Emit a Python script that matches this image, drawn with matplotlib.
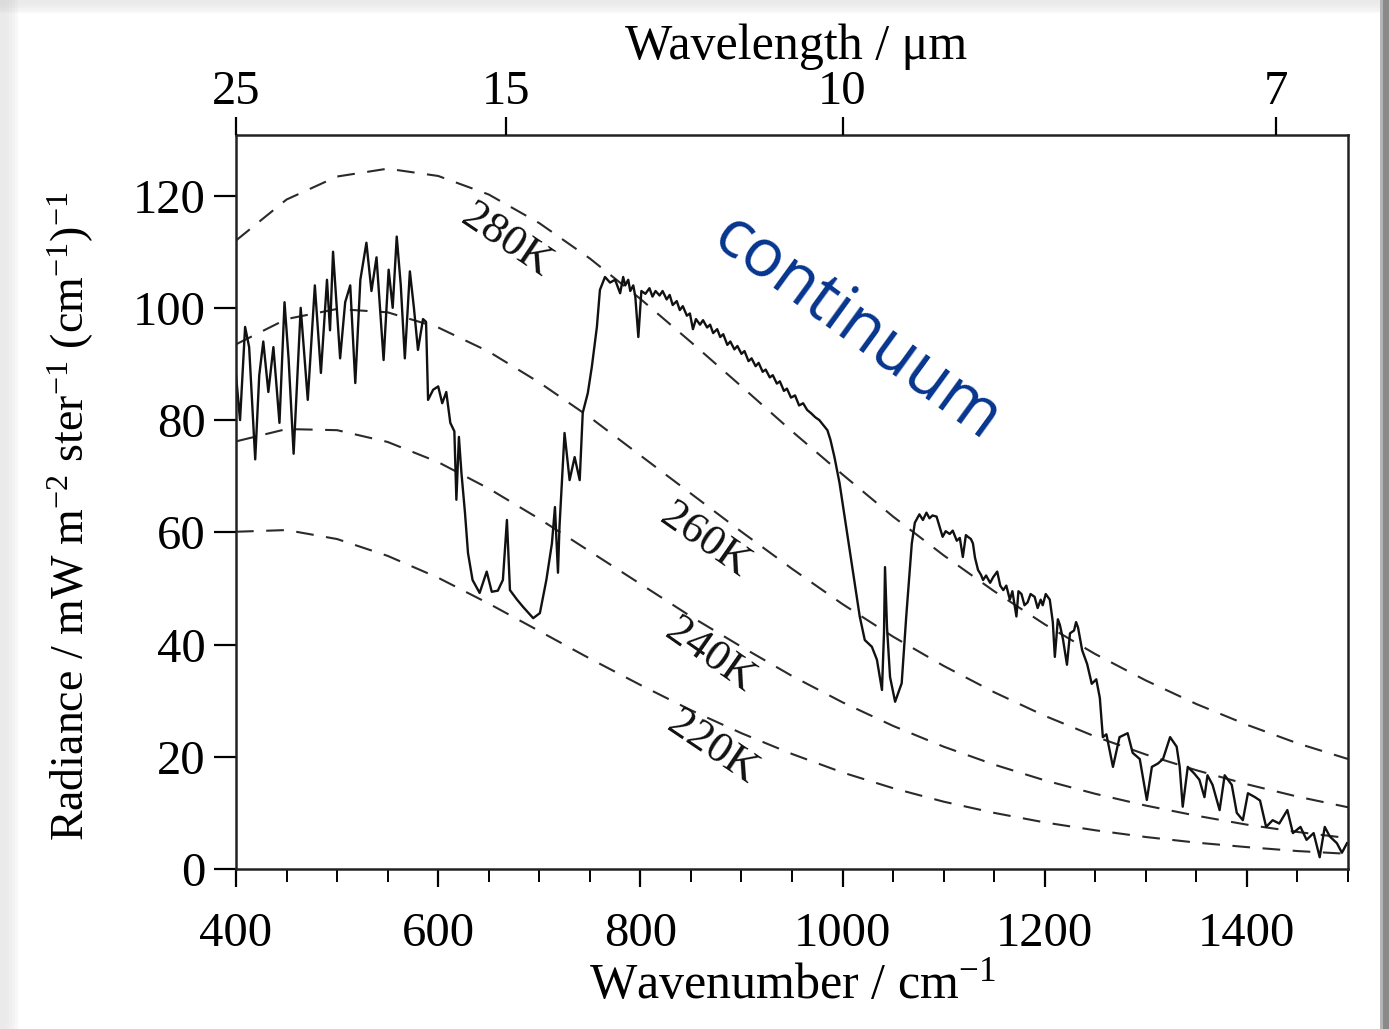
import matplotlib
matplotlib.use("Agg")
import matplotlib.pyplot as plt
from matplotlib.patches import Rectangle

# ---------------- data ----------------
wavenumber = [400, 404, 409, 413, 419, 423, 427, 432, 437, 443, 448, 452, 457, 464, 471,
              478, 484, 490, 493, 496, 503, 508, 513, 518, 523, 529, 534, 539, 546, 551,
              555, 559, 563, 567, 572, 576, 580, 585, 588, 590, 595, 600, 604, 608, 612,
              616, 618, 620.5, 623, 626.5, 629.5, 634, 641, 648, 653, 659, 664, 668, 671,
              678, 684, 694, 700.6, 707, 712.5, 715.5, 718.5, 720, 725, 730, 735, 740, 743,
              748, 752, 757, 760, 765, 770, 775, 780, 783, 785, 788, 790, 793, 795, 798,
              801, 805, 809, 812, 815, 819, 822, 826, 829, 832, 836, 839, 842, 846, 849,
              852, 855, 859, 862, 866, 869, 872, 876, 879, 882, 886, 889, 893, 896, 900,
              903, 907, 910, 914, 917, 921, 924, 928, 931, 935, 938, 942, 945, 949, 953,
              957, 961, 965, 969, 973, 977, 981, 985, 988, 992, 997, 1002, 1007, 1012,
              1017, 1022, 1029, 1034, 1039, 1041, 1042, 1044, 1047, 1052, 1058.5, 1063,
              1068.5, 1071.5, 1076, 1079.5, 1083, 1086, 1089, 1093, 1096, 1099, 1102, 1106,
              1109, 1113, 1116, 1119, 1122, 1124, 1127, 1129, 1131, 1134, 1137, 1139, 1142,
              1146, 1149, 1153, 1156, 1159, 1162, 1165.5, 1168, 1172, 1174, 1177, 1180,
              1183, 1186, 1190, 1193, 1196, 1198, 1201, 1205, 1208, 1210, 1213, 1215, 1218,
              1222, 1225, 1229, 1231, 1233, 1237, 1242, 1246.5, 1251, 1254.5, 1257.5, 1261,
              1267.5, 1274, 1282, 1287, 1294, 1301, 1306, 1312, 1317, 1324, 1330.5, 1333.5,
              1336.5, 1341.5, 1348, 1353, 1358, 1361, 1366, 1373, 1378, 1385, 1390, 1396,
              1401, 1408, 1413, 1419, 1425.5, 1432, 1440, 1445.5, 1453, 1459, 1466, 1472,
              1477, 1482, 1489, 1494, 1499]
radiance = [88, 80, 96.6, 93, 73, 88, 94, 85, 93, 79.5, 101, 91, 74, 100, 83.6,
            104, 88.4, 105, 96, 110, 91, 101, 104, 86.6, 105, 111.6, 103, 109, 90.7, 106.8,
            100, 112.7, 104, 91, 106.5, 100, 92.5, 98, 97.5, 83.6, 85.4, 86, 83, 85, 79.5,
            78, 65.8, 77, 70.6, 63.5, 56.3, 51.5, 49.2, 53, 49.4, 49.6, 51.5, 62.2, 49.7,
            48, 46.7, 44.7, 45.6, 51.5, 58, 64.5, 52.8, 61, 77.7, 69.3, 73.4, 69.3, 81.3,
            84.8, 89.5, 96.6, 103.2, 105.5, 104.5, 105, 102.6, 105.5, 104, 105, 103, 104, 102, 94.8,
            103, 102.5, 103.5, 102, 103, 102.2, 103, 101.5, 102.3, 100.5, 101.2, 99.6, 100.3, 98.6, 99,
            96.2, 98, 97, 97.8, 96.5, 97, 95.5, 96.2, 94.8, 95.3, 93.4, 94, 92.6, 93.2, 91.8,
            92.3, 90.5, 91, 89.6, 90.2, 88.6, 89, 87.6, 88, 86.5, 86.9, 85.2, 85.6, 84, 84.4,
            82.6, 83, 81.8, 81.2, 80.5, 80, 79.1, 78.2, 76.5, 73.4, 68.8, 62.8, 56.9, 51,
            45, 40.8, 39.6, 37.3, 31.9, 42, 53.8, 43, 34.2, 29.8, 33.1, 45,
            58, 61.7, 63.2, 62.2, 63.5, 62.5, 63, 62.8, 61, 59.2, 60.2, 59.7,
            60.3, 58.5, 59, 55.6, 59.5, 59.2, 58.8, 58, 55.5, 53.3, 52.4, 51.5, 52.3,
            51, 52, 53, 50.5, 49.7, 50.5, 48, 49.5, 45, 49.5, 49, 47,
            47.5, 49, 48.5, 46.5, 48, 47, 49, 48, 44, 37.8, 44.5, 43.5, 41,
            36.4, 42, 42.5, 44, 43, 39, 36.5, 33, 33.8, 30.5, 23.5, 24,
            18.2, 23.5, 24.2, 20.7, 19.6, 12.3, 18.2, 18.8, 19.6, 23.5, 21.8, 18.2,
            11.1, 18.2, 17, 15.9, 12.8, 16.7, 15, 10.5, 16.7, 15, 10, 8.7,
            13.5, 12.8, 12.2, 7.5, 8.7, 8.1, 10.5, 6.4, 7.5, 5.2, 6.4, 2.1,
            7.5, 5.8, 4.6, 2.9, 4.6]

# dashed reference curves (read every 50 cm-1)
curve_wn = [400, 450, 500, 550, 600, 650, 700, 750, 800, 850, 900, 950, 1000,
            1050, 1100, 1150, 1200, 1250, 1300, 1350, 1400, 1450, 1500]
curve_280K = [112.0, 119.3, 123.4, 124.8, 123.5, 120.2, 115.1, 108.8, 101.6, 93.9, 86.0, 78.0,
              70.3, 62.8, 55.9, 49.5, 43.6, 38.3, 33.6, 29.4, 25.7, 22.4, 19.6]
curve_260K = [93.5, 98.0, 99.8, 99.2, 96.5, 92.2, 86.7, 80.5, 73.7, 66.9, 60.1, 53.5,
              47.2, 41.4, 36.2, 31.5, 27.3, 23.6, 20.4, 17.6, 15.1, 12.9, 11.0]
curve_240K = [76.2, 78.4, 78.2, 76.1, 72.5, 67.8, 62.4, 56.6, 50.8, 45.0, 39.6, 34.4,
              29.7, 25.5, 21.8, 18.6, 15.8, 13.4, 11.3, 9.5, 7.9, 6.6, 5.5]
curve_220K = [60.1, 60.4, 58.8, 55.8, 51.9, 47.3, 42.4, 37.5, 32.8, 28.3, 24.2, 20.5,
              17.2, 14.4, 12.0, 10.0, 8.3, 6.9, 5.7, 4.7, 3.9, 3.2, 2.7]
curve_labels = ["280K", "260K", "240K", "220K"]
label_pos = [(667, 112.0), (864, 58.6), (869, 38.1), (871, 21.6)]
label_rot = [-34, -35, -35, -34]

x_ticks = [400, 600, 800, 1000, 1200, 1400]
y_ticks = [0, 20, 40, 60, 80, 100, 120]
wavelength_ticks = [25, 15, 10, 7]

# ---------------- figure ----------------
serif = ["Liberation Serif", "DejaVu Serif"]
plt.rcParams["font.family"] = serif
plt.rcParams["mathtext.fontset"] = "custom"
plt.rcParams["mathtext.rm"] = "Liberation Serif"
plt.rcParams["mathtext.it"] = "Liberation Serif:italic"
plt.rcParams["mathtext.default"] = "rm"

fig = plt.figure(figsize=(13.89, 10.29), dpi=100)
fig.patch.set_facecolor("white")

# page shadow (slide-like frame)
W, H = 1389.0, 1029.0
for i, a in enumerate([0.05, 0.04, 0.03, 0.02, 0.01]):
    fig.patches.append(Rectangle((0, 0), (18 - i * 3) / W, 1, transform=fig.transFigure,
                                 facecolor="#888888", alpha=a, edgecolor="none", zorder=-5))
    fig.patches.append(Rectangle((0, 1 - (13 - i * 2.5) / H), 1, (13 - i * 2.5) / H,
                                 transform=fig.transFigure, facecolor="#888888", alpha=a,
                                 edgecolor="none", zorder=-5))
fig.patches.append(Rectangle((1380 / W, 0), 9 / W, 1, transform=fig.transFigure,
                             facecolor="#8a8a8a", edgecolor="none", zorder=-4))
fig.patches.append(Rectangle((1380 / W, 0), 3 / W, 1, transform=fig.transFigure,
                             facecolor="#b5b5b5", edgecolor="none", zorder=-3))

ax = fig.add_axes([236 / W, 1 - 869 / H, 1112 / W, 734 / H])
ax.set_xlim(400, 1500)
ax.set_ylim(0, 130.8)

dash_kw = dict(color="#2a2a2a", lw=1.5, dashes=(8.5, 6))
for vals in [curve_280K, curve_260K, curve_240K, curve_220K]:
    ax.plot(curve_wn, vals, **dash_kw)

ax.plot(wavenumber, radiance, color="#111111", lw=1.7, solid_joinstyle="round")

for lab, (lx, ly), rot in zip(curve_labels, label_pos, label_rot):
    ax.text(lx, ly, lab, rotation=rot, ha="center", va="center", fontsize=32,
            color="#111111", rotation_mode="anchor")

ax.text(1014, 96.4, "continuum", rotation=-36, ha="center", va="center",
        fontsize=48, color="#06358f", family=["Open Sans", "DejaVu Sans"],
        rotation_mode="anchor")

for s in ax.spines.values():
    s.set_linewidth(1.8)
    s.set_color("#222222")

ax.set_xticks(x_ticks)
ax.set_xticks(list(range(450, 1501, 50)), minor=True)
ax.set_yticks(y_ticks)
ax.tick_params(axis="x", which="major", direction="out", length=13, width=1.6,
               labelsize=35, pad=18, top=False)
ax.tick_params(axis="x", which="minor", direction="out", length=9, width=1.4, top=False)
ax.tick_params(axis="y", which="major", direction="out", length=16, width=1.6,
               labelsize=35, pad=6, right=False)

ax.set_xlabel("Wavenumber / cm$^{-1}$", fontsize=36)
ax.xaxis.set_label_coords(0.50, -0.127)
ax.set_ylabel("Radiance / mW m$^{-2}$ ster$^{-1}$ (cm$^{-1}$)$^{-1}$", fontsize=33)
ax.yaxis.set_label_coords(-0.126, 0.48)

top = ax.twiny()
top.set_xlim(ax.get_xlim())
top.set_xticks([1e4 / w for w in wavelength_ticks])
top.set_xticklabels([str(w) for w in wavelength_ticks])
top.tick_params(axis="x", direction="out", length=13, width=1.6, labelsize=35, pad=2)
top.set_xlabel("Wavelength / \u03bcm", fontsize=36)
top.xaxis.set_label_coords(0.504, 1.1035)
for s in top.spines.values():
    s.set_visible(False)

fig.savefig("out.png", dpi=100, facecolor=fig.get_facecolor())
